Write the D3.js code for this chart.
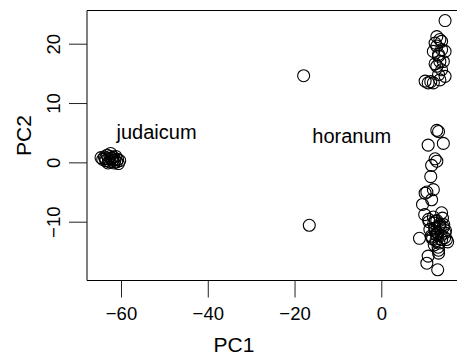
<!DOCTYPE html>
<html>
<head>
<meta charset="utf-8">
<script src="https://cdn.jsdelivr.net/npm/d3@7"></script>
<style>
  body { margin: 0; background: #fff; }
  svg { display: block; font-family: "Liberation Sans", Arial, sans-serif; }
</style>
</head>
<body>
<svg id="chart" width="457" height="358"></svg>
<script>
// judaicum cluster, far left
const judaicumPC1 = [-64.6, -64.2, -63.8, -63.5, -63.2, -62.9, -62.6, -62.4, -62.2, -62.0, -61.8, -61.6, -61.4, -61.2, -61.0, -60.8, -60.6, -60.3, -63.0, -62.5, -61.9, -63.6];
const judaicumPC2 = [0.8, 0.5, 0.9, 0.3, 1.2, 0.6, 0.1, 1.5, 0.7, 0.2, 0.9, -0.1, 0.4, 1.0, 0.1, 0.5, -0.2, 0.3, -0.1, 1.0, 0.4, 0.6];

// horanum, the two loose points plus the two clusters on the right
const horanumPC1 = [
  -17.9, -16.6,
  14.7, 12.8, 13.5, 12.4, 13.9, 12.0, 14.7, 13.2, 13.5, 14.3, 12.8, 13.9, 13.2, 14.7, 10.1, 10.8, 12.0, 13.5, 12.8, 13.2, 12.4, 13.9, 11.4,
  13.2, 12.8, 14.3, 10.8, 12.4, 12.8, 11.6, 11.4, 12.0, 10.5, 10.1, 11.6, 9.5, 13.9,
  12.0, 12.8, 13.5, 14.3, 11.2, 12.4, 13.0, 13.8, 14.6, 11.8, 12.6, 13.3, 10.9, 12.1, 13.6, 14.1, 11.5, 12.9, 13.4, 12.2, 14.8, 11.0, 12.7, 13.1, 13.9, 12.3, 11.7, 14.4, 12.5, 13.2,
  8.8, 15.0, 10.8, 10.5, 13.2, 13.0, 14.7, 10.0, 15.3
];
const horanumPC2 = [
  14.6, -10.6,
  23.9, 21.2, 20.7, 20.1, 19.0, 18.7, 18.7, 17.9, 17.0, 17.0, 16.2, 15.6, 14.8, 14.5, 13.7, 13.4, 13.4, 13.9, 19.6, 18.2, 16.6, 20.4, 13.6,
  5.2, 5.4, 3.2, 2.9, 0.6, 0.2, -0.5, -2.4, -4.6, -5.0, -5.2, -6.3, -7.1, -8.5,
  -9.2, -9.8, -10.4, -10.9, -11.3, -11.6, -12.0, -12.3, -12.7, -12.9, -13.2, -13.6, -9.6, -10.2, -11.0, -9.4, -12.4, -11.8, -10.7, -13.9, -11.5, -10.0, -12.2, -14.3, -13.0, -11.1, -12.6, -10.5, -9.9, -14.8,
  -12.8, -13.0, -15.8, -17.0, -15.3, -18.1, -11.9, -8.8, -13.4
];

const groupLabels = ["judaicum", "horanum"];
const labelPC1 = [-51.8, -6.8];
const labelPC2 = [4.0, 3.3];

const xTicks = [-60, -40, -20, 0];
const yTicks = [-10, 0, 10, 20];

const svg = d3.select("#chart");
const boxLeft = 87, boxTop = 10.5, boxBottom = 280.5;

const x = d3.scaleLinear().domain([-60, 0]).range([121, 381.3]);
const y = d3.scaleLinear().domain([-10, 20]).range([221.7, 43.7]);

const points = [];
for (let i = 0; i < judaicumPC1.length; i++) points.push([judaicumPC1[i], judaicumPC2[i]]);
for (let i = 0; i < horanumPC1.length; i++) points.push([horanumPC1[i], horanumPC2[i]]);

const minus = d => String(d).replace("-", "\u2212");

// points
svg.append("g").selectAll("circle")
  .data(points)
  .enter()
  .append("circle")
  .attr("cx", d => x(d[0]))
  .attr("cy", d => y(d[1]))
  .attr("r", 6)
  .attr("fill", "none")
  .attr("stroke", "#000")
  .attr("stroke-width", 1.1);

// box (right side runs off the picture)
svg.append("path")
  .attr("d", `M470,${boxTop}H${boxLeft}V${boxBottom}H470`)
  .attr("fill", "none")
  .attr("stroke", "#000")
  .attr("stroke-width", 1);

// x axis
const gx = svg.append("g")
  .attr("transform", `translate(0,${boxBottom})`)
  .call(d3.axisBottom(x).tickValues(xTicks).tickSize(17).tickPadding(9).tickFormat(minus));
gx.select(".domain").remove();
gx.selectAll("line").attr("stroke", "#222");
gx.selectAll("text").attr("font-size", 18.5).attr("fill", "#000")
  .attr("font-family", "Liberation Sans, Arial, sans-serif");

// y axis, labels turned like R's default
const gy = svg.append("g")
  .attr("transform", `translate(${boxLeft},0)`)
  .call(d3.axisLeft(y).tickValues(yTicks).tickSize(18).tickFormat(minus));
gy.select(".domain").remove();
gy.selectAll("line").attr("stroke", "#222");
gy.selectAll("text")
  .attr("font-size", 18.5).attr("fill", "#000")
  .attr("font-family", "Liberation Sans, Arial, sans-serif")
  .attr("text-anchor", "middle")
  .attr("x", 0).attr("dy", 0)
  .attr("transform", "translate(-27,0) rotate(-90)");

// axis titles
svg.append("text")
  .attr("x", 234).attr("y", 352)
  .attr("text-anchor", "middle")
  .attr("font-size", 21)
  .text("PC1");
svg.append("text")
  .attr("transform", `translate(31,${(boxTop + boxBottom) / 2 - 10}) rotate(-90)`)
  .attr("text-anchor", "middle")
  .attr("font-size", 21)
  .text("PC2");

// group labels
svg.append("g").selectAll("text")
  .data(groupLabels)
  .enter()
  .append("text")
  .attr("x", (d, i) => x(labelPC1[i]))
  .attr("y", (d, i) => y(labelPC2[i]))
  .attr("text-anchor", "middle")
  .attr("font-size", 20)
  .text(d => d);
</script>
</body>
</html>
